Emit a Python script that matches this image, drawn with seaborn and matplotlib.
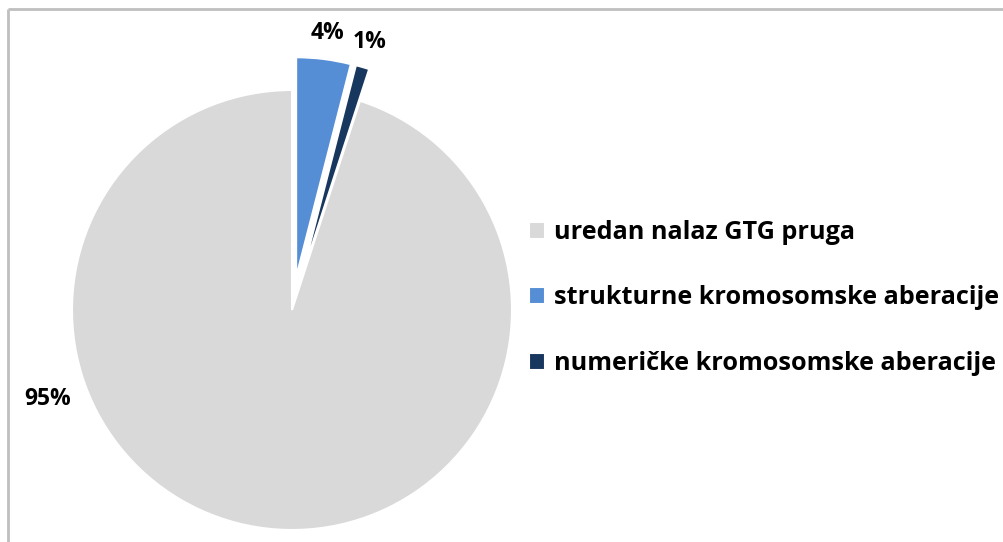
"""
Pie chart: GTG banding findings (normal vs. structural / numerical aberrations).
"""

import numpy as np
import matplotlib
matplotlib.use("Agg")
import matplotlib.pyplot as plt
from matplotlib.lines import Line2D
import seaborn as sns

categories = [
    "uredan nalaz GTG pruga",
    "strukturne kromosomske aberacije",
    "numeričke kromosomske aberacije",
]
shares = [95, 4, 1]
colors = ["#D9D9D9", "#558ED5", "#17375E"]
explode = [0, 0.15, 0.15]

sns.set_theme(style="white")
plt.rcParams["font.family"] = ["Open Sans", "DejaVu Sans"]

W, H = 1004, 542
fig = plt.figure(figsize=(W / 100, H / 100), dpi=100)

# pie centre at (292, 310) px, radius 220 px
r_px = 220
lim = 1.25
size = 2 * lim * r_px
cx, cy = 292, H - 310
ax = fig.add_axes([(cx - size / 2) / W, (cy - size / 2) / H, size / W, size / H])

wedges, texts, autotexts = ax.pie(
    shares,
    colors=colors,
    explode=explode,
    startangle=72,
    counterclock=False,
    autopct="%d%%",
    pctdistance=1.12,
    wedgeprops=dict(edgecolor="white", linewidth=1.5),
    textprops=dict(fontsize=16.5, fontweight="bold", color="black"),
)
ax.set_xlim(-lim, lim)
ax.set_ylim(-lim, lim)
ax.set_aspect("equal")
ax.axis("off")
for w in wedges:
    w.set_clip_on(False)

# Excel places the big-slice label to the lower left
ang = np.deg2rad(200)
autotexts[0].set_position((1.18 * np.cos(ang), 1.18 * np.sin(ang)))
autotexts[0].set_ha("center")
autotexts[0].set_va("center")

leg = fig.legend(
    wedges,
    categories,
    loc="center left",
    bbox_to_anchor=(506 / W, 1 - 298 / H),
    frameon=False,
    prop=dict(size=18.2, weight="bold"),
    labelcolor="black",
    handlelength=0.65,
    handleheight=0.65,
    handletextpad=0.35,
    labelspacing=1.6,
)

# chart border (only top and left visible in the crop)
border = dict(color="#BFBFBF", linewidth=2, transform=fig.transFigure, solid_capstyle="butt")
fig.add_artist(Line2D([8 / W, 1], [1 - 9 / H, 1 - 9 / H], **border))
fig.add_artist(Line2D([8 / W, 8 / W], [0, 1 - 9 / H], **border))

fig.savefig("out.png", dpi=100, facecolor="white")
